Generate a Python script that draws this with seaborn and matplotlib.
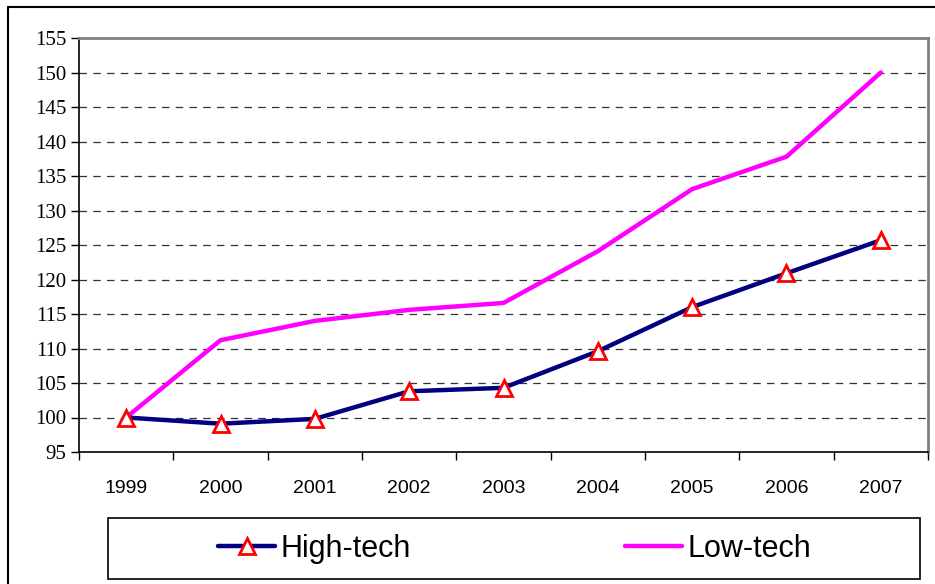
import matplotlib
matplotlib.use("Agg")
import matplotlib.pyplot as plt
from matplotlib.lines import Line2D
import seaborn as sns
import pandas as pd
import numpy as np

years = ["1999", "2000", "2001", "2002", "2003", "2004", "2005", "2006", "2007"]
high_tech = [100.0, 99.1, 99.8, 103.8, 104.3, 109.6, 116.0, 120.9, 125.7]
low_tech = [100.0, 111.2, 114.0, 115.6, 116.6, 124.1, 133.1, 137.8, 150.0]
y_ticks = [95, 100, 105, 110, 115, 120, 125, 130, 135, 140, 145, 150, 155]

sns.set_theme(style="white")
plt.rcParams["font.family"] = ["Liberation Sans", "DejaVu Sans"]
plt.rcParams["text.color"] = "black"
plt.rcParams["xtick.color"] = "black"
plt.rcParams["ytick.color"] = "black"
plt.rcParams["xtick.labelcolor"] = "black"
plt.rcParams["ytick.labelcolor"] = "black"

pos = np.arange(len(years))
df = pd.DataFrame({
    "pos": np.concatenate([pos, pos]),
    "value": high_tech + low_tech,
    "series": ["High-tech"] * len(years) + ["Low-tech"] * len(years),
})

W, H = 935, 584
fig = plt.figure(figsize=(W / 100, H / 100), dpi=100)
ax = fig.add_axes([79 / W, 1 - 452 / H, (928 - 79) / W, (452 - 38) / H])

sns.lineplot(data=df[df.series == "Low-tech"], x="pos", y="value", ax=ax,
             color="#FF00FF", linewidth=3.2, legend=False)
sns.lineplot(data=df[df.series == "High-tech"], x="pos", y="value", ax=ax,
             color="#000080", linewidth=3.2, legend=False,
             marker="^", markersize=11, markerfacecolor="white",
             markeredgecolor="#FF0000", markeredgewidth=2)

ax.set_xlim(-0.5, len(years) - 0.5)
ax.set_ylim(95, 155)
ax.set_yticks(y_ticks)
ax.set_yticklabels([str(v) for v in y_ticks], fontfamily="Liberation Serif", fontsize=15)
ax.set_xticks(pos)
ax.set_xticklabels(years, fontsize=14)
ax.set_xticks(np.arange(-0.5, len(years)), minor=True)
ax.tick_params(axis="x", which="major", length=0, pad=20)
ax.tick_params(axis="x", which="minor", length=6, width=1, color="black", direction="out")
ax.tick_params(axis="y", length=6, width=1, color="black", direction="out", pad=3)
ax.yaxis.set_ticks_position("left")
ax.xaxis.set_ticks_position("bottom")
ax.set_xlabel("")
ax.set_ylabel("")

for v in y_ticks[1:-1]:
    ax.axhline(v, color="#333333", linewidth=0.9, linestyle=(0, (6, 5)), zorder=0)

ax.spines["left"].set_color("black")
ax.spines["bottom"].set_color("black")
ax.spines["left"].set_linewidth(1.2)
ax.spines["bottom"].set_linewidth(1.2)
ax.spines["top"].set_color("#808080")
ax.spines["right"].set_color("#808080")
ax.spines["top"].set_linewidth(2)
ax.spines["right"].set_linewidth(2)

handles = [
    Line2D([], [], color="#000080", linewidth=3.2, marker="^", markersize=11,
           markerfacecolor="white", markeredgecolor="#FF0000", markeredgewidth=2),
    Line2D([], [], color="#FF00FF", linewidth=3.2),
]
leg = fig.legend(handles, ["High-tech", "Low-tech"], ncol=2,
                 loc="center", bbox_to_anchor=(515 / W, 1 - 549 / H),
                 fontsize=22, frameon=False, handlelength=1.85,
                 handletextpad=0.2, columnspacing=7.0)
for t in leg.get_texts():
    t.set_color("black")

# legend frame and outer chart border
fig.patches.append(plt.Rectangle((108 / W, 1 - 579 / H), (920 - 108) / W, (579 - 518) / H,
                                 transform=fig.transFigure, fill=False,
                                 edgecolor="black", linewidth=1.2))
fig.lines.append(Line2D([8 / W, 8 / W], [0, 1 - 7 / H], transform=fig.transFigure,
                        color="black", linewidth=1.5))
fig.lines.append(Line2D([8 / W, 1], [1 - 7 / H, 1 - 7 / H], transform=fig.transFigure,
                        color="black", linewidth=1.5))

fig.savefig("out.png", dpi=100, facecolor="white")
